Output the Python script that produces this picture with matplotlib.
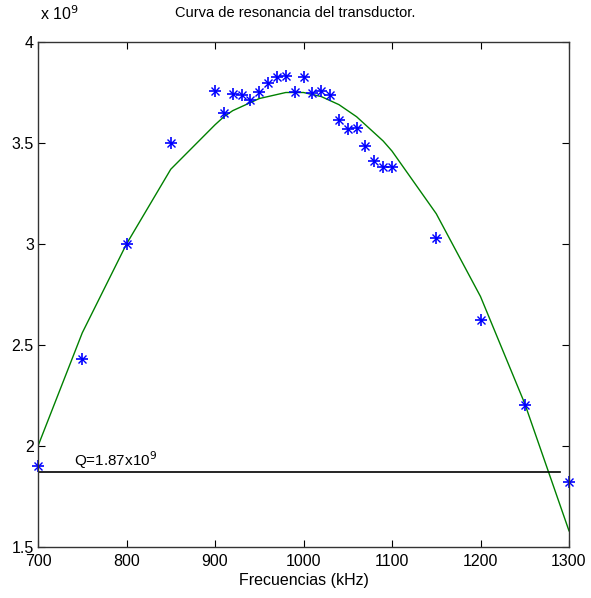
import numpy as np
import matplotlib
matplotlib.use('Agg')
import matplotlib.pyplot as plt

plt.rcParams['font.family'] = ['Liberation Sans', 'DejaVu Sans']

# measured points (kHz, x 1e9)
freq = [700, 750, 800, 850, 900, 910, 920, 930, 940, 950, 960, 970, 980, 990,
        1000, 1010, 1020, 1030, 1040, 1050, 1060, 1070, 1080, 1090, 1100,
        1150, 1200, 1250, 1300]
medida = [1.90, 2.43, 3.00, 3.50, 3.757, 3.647, 3.745, 3.737, 3.713, 3.754, 3.796,
          3.825, 3.832, 3.754, 3.825, 3.750, 3.757, 3.736, 3.612, 3.567, 3.572,
          3.487, 3.410, 3.380, 3.383, 3.028, 2.625, 2.203, 1.820]
# fitted curve read at the same frequencies
ajuste = [2.00, 2.56, 3.00, 3.37, 3.59, 3.63, 3.66, 3.68, 3.70, 3.72, 3.73,
          3.74, 3.75, 3.75, 3.75, 3.74, 3.73, 3.71, 3.69, 3.66, 3.63, 3.59,
          3.55, 3.51, 3.46, 3.15, 2.74, 2.21, 1.58]
q_val = 1.87
q_x = [700, 1290]

fig = plt.figure(figsize=(5.91, 5.98), dpi=100)
ax = fig.add_axes([38/591, 1 - 547/598, 531/591, 505/598])

ax.plot(freq, ajuste, color=(0, 0.5, 0), lw=1)
ax.plot(freq, medida, ls='none', marker='+', ms=9, mew=1.2, color='blue', clip_on=False)
ax.plot(freq, medida, ls='none', marker='x', ms=5.5, mew=1.0, color='blue', clip_on=False)
ax.plot(q_x, [q_val, q_val], color='black', lw=1.2)
ax.text(741, 1.90, r'Q=1.87x10$^9$', fontsize=11)

ax.set_xlim(700, 1300)
ax.set_ylim(1.5, 4)
ax.set_xticks([700, 800, 900, 1000, 1100, 1200, 1300])
ax.set_yticks([1.5, 2, 2.5, 3, 3.5, 4])
ax.set_yticklabels(['1.5', '2', '2.5', '3', '3.5', '4'])
ax.tick_params(direction='in', top=True, right=True, labelsize=11.5, length=5)
ax.tick_params(axis='x', pad=5)
ax.tick_params(axis='y', pad=3)
for s in ax.spines.values():
    s.set_linewidth(1)
    s.set_color('#333333')

ax.set_xlabel('Frecuencias (kHz)', fontsize=11.5, labelpad=3)
ax.set_title('Curva de resonancia del transductor.', fontsize=10.5, pad=18, x=0.485)
fig.text(40/591, 1 - 20/598, r'x 10$^9$', fontsize=11.5)

fig.savefig('out.png', dpi=100, facecolor='white')
